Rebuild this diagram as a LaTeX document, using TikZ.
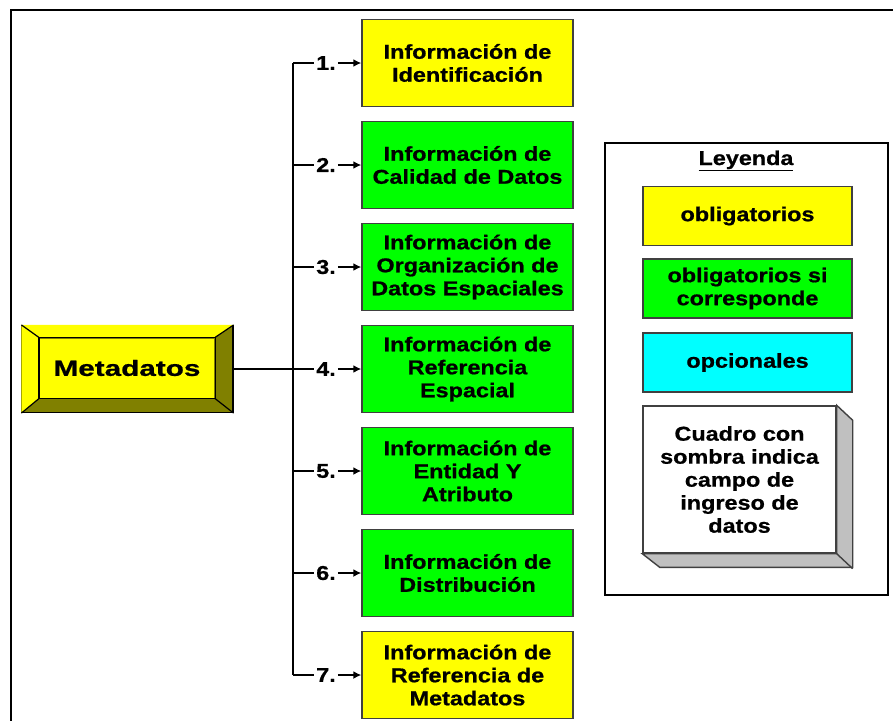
\documentclass[tikz,border=0pt]{standalone}
\usepackage{fontspec}
\newfontfamily\diagfont{Liberation Sans}[FakeStretch=1.17,FakeBold=0.8]
\newfontfamily\metafont{Liberation Sans}[FakeStretch=1.35,FakeBold=0.8]
\usetikzlibrary{arrows.meta}
\definecolor{boxyellow}{RGB}{255,255,0}
\definecolor{boxgreen}{RGB}{0,255,0}
\definecolor{boxcyan}{RGB}{0,255,255}
\definecolor{bevelolive}{RGB}{128,128,0}
\definecolor{shadowgray}{RGB}{192,192,192}

\begin{document}
\begin{tikzpicture}
  [x=1pt,y=-1pt,line width=2.2pt,>={Latex[length=8pt,width=8pt]},
   every node/.style={font=\diagfont\bfseries\fontsize{20}{23}\selectfont,align=center},
   infobox/.style={draw=black!75,line width=1.4pt,minimum width=211pt,minimum height=87pt,inner sep=0pt},
   legbox/.style={draw=black!75,line width=1.4pt,minimum width=209pt,minimum height=59pt,inner sep=0pt},
   num/.style={inner sep=1pt}]
  \useasboundingbox (0,0) rectangle (893,721);
  \draw[line width=2.8pt] (893,10) -- (11,10) -- (11,721);

  % Metadatos
  \node[draw=black,line width=1.2pt,fill=bevelolive,minimum width=211pt,minimum height=87pt] (meta) at (127.5,369) {};
  \node[fill=boxyellow,minimum width=174pt,minimum height=59pt,font=\metafont\bfseries\fontsize{22}{26}\selectfont] (metain) at (127,368) {Metadatos};
  \fill[boxyellow] (meta.north west) -- (meta.north east) -- (metain.north east) -- (metain.north west)
    -- (metain.south west) -- (meta.south west) -- cycle;
  \foreach \c in {north west,north east,south west,south east}
    \draw[line width=1.2pt] (meta.\c) -- (metain.\c);
  \draw[line width=1.2pt] (metain.north west) rectangle (metain.south east);

  \foreach \n/\y in {1/63,2/165,3/267,4/369,5/471,6/573,7/675}{
    \coordinate (t\n) at (293,\y);
    \node[num] (l\n) at (326,\y) {\n.};
  }

  \node[infobox,fill=boxyellow] (b1) at (467.5,63)  {Información de\\Identificación};
  \node[infobox,fill=boxgreen]  (b2) at (467.5,165) {Información de\\Calidad de Datos};
  \node[infobox,fill=boxgreen]  (b3) at (467.5,267) {Información de\\Organización de\\Datos Espaciales};
  \node[infobox,fill=boxgreen]  (b4) at (467.5,369) {Información de\\Referencia\\Espacial};
  \node[infobox,fill=boxgreen]  (b5) at (467.5,471) {Información de\\Entidad Y\\Atributo};
  \node[infobox,fill=boxgreen]  (b6) at (467.5,573) {Información de\\Distribución};
  \node[infobox,fill=boxyellow] (b7) at (467.5,675) {Información de\\Referencia de\\Metadatos};

  \draw (t1) -- (t7);
  \foreach \n in {1,...,7}{
    \draw (t\n) -- (l\n);
    \draw[->] (l\n) -- (b\n);
  }
  \draw (meta) -- (l4);

  % Leyenda
  \node[draw,line width=2.8pt,minimum width=283pt,minimum height=452pt] (legend) at (746.5,369) {};
  \node[anchor=base] (leyenda) at (746,165) {\underline{Leyenda}};
  \node[legbox,fill=boxyellow] (lg1) at (747.5,216)   {obligatorios};
  \node[legbox,fill=boxgreen]  (lg2) at (747.5,288.5) {obligatorios si\\corresponde};
  \node[legbox,fill=boxcyan]   (lg3) at (747.5,362.5) {opcionales};
  \node[draw=black!75,line width=1.4pt,fill=white,minimum width=193pt,minimum height=147pt] (sombra) at (739.5,479.5)
    {Cuadro con\\sombra indica\\campo de\\ingreso de\\datos};
  \filldraw[fill=shadowgray,draw=black!75,line width=1.4pt] (sombra.north east) -- ++(16,15) -- ++(0,147) -- ++(-193,0)
    -- (sombra.south west) -- (sombra.south east) -- cycle;
  \draw[black!75,line width=1.4pt] (sombra.south east) -- ++(16,15);
\end{tikzpicture}
\end{document}
